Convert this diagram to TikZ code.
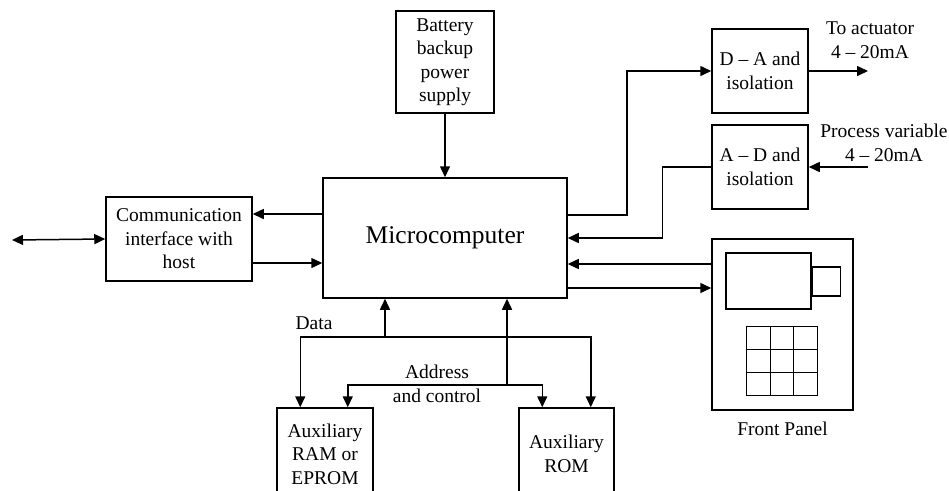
\documentclass[tikz,border=0pt]{standalone}
\usepackage{fontspec}
\setmainfont{Liberation Serif}
\usepackage{tikz}
\usetikzlibrary{positioning, arrows.meta, calc}

\tikzset{
    blk/.style={draw, line width=1.5pt, align=center, inner sep=2pt,
                font=\fontsize{19.5}{23.5}\selectfont},
    lbl/.style={align=center, inner sep=1pt, font=\fontsize{19.5}{23.5}\selectfont},
    arr/.style={line width=1.5pt, -{Triangle[length=11pt, width=10pt]}},
    line width=1.5pt
}

\begin{document}
\begin{tikzpicture}[x=1pt, y=-1pt]
    \clip (0,0) rectangle (949,490);

    \node[blk, minimum width=244pt, minimum height=120pt,
          font=\fontsize{25.5}{30}\selectfont] (micro) at (445,238) {Microcomputer};
    \node[blk, minimum width=98pt, minimum height=102pt] (batt) at (445,62)
        {Battery\\backup\\power\\supply};
    \node[blk, minimum width=146pt, minimum height=84pt] (comm) at (179,239)
        {Communication\\interface with\\host};
    \node[blk, minimum width=96pt, minimum height=84pt] (da) at (760,71)
        {D – A and\\isolation};
    \node[blk, minimum width=96pt, minimum height=84pt] (ad) at (760,167)
        {A – D and\\isolation};
    \node[blk, minimum width=141pt, minimum height=171pt] (panel) at (782.5,324.5) {};
    \node[blk, minimum width=96pt, minimum height=92pt] (ram) at (325,454)
        {Auxiliary\\RAM or\\EPROM};
    \node[blk, minimum width=95pt, minimum height=92pt] (rom) at (566.5,454)
        {Auxiliary\\ROM};

    % front panel
    \node[blk, minimum width=85pt, minimum height=56pt] (disp) at (768.5,281) {};
    \node[blk, minimum width=28pt, minimum height=29pt, anchor=west] (knob)
        at (disp.east |- 0,281.5) {};
    \draw (746,326) rectangle (817,395);
    \foreach \i in {1,2} {
        \draw ({746+\i*23.7},326) -- ({746+\i*23.7},395);
        \draw (746,{326+\i*23}) -- (817,{326+\i*23});
    }
    \node[lbl, below=10pt of panel] (fplbl) {Front Panel};

    % left side
    \coordinate (host) at (12,240);
    \draw[arr, {Triangle[length=11pt, width=10pt]}-{Triangle[length=11pt, width=10pt]}]
        (host) -- (comm.west);
    \draw[arr] ([yshift=24pt]micro.west) -- ([yshift=24pt]micro.west -| comm.east);
    \draw[arr] ([yshift=-24pt]comm.east) -- ([yshift=-24pt]comm.east -| micro.west);
    \draw[arr] (batt) -- (micro);

    % right side
    \draw[arr] ([yshift=23pt]micro.east) -- ++(59,0) |- (da.west);
    \draw[arr] (ad.west) -- ++(-49,0) |- (micro.east);
    \draw[arr] ([yshift=-26pt]micro.east -| panel.west) -- ([yshift=-26pt]micro.east);
    \draw[arr] ([yshift=-50pt]micro.east) -- ([yshift=-50pt]micro.east -| panel.west);
    \coordinate (act) at (868,71);
    \coordinate (pv) at (868,167);
    \draw[arr] (da) -- (act);
    \draw[arr] (pv) -- (ad);
    \node[lbl] (actlbl) at (870,40) {To actuator\\4 – 20mA};
    \node[lbl] (pvlbl) at (884,143) {Process variable\\4 – 20mA};

    % buses
    \coordinate (dbus) at (385,337);
    \coordinate (abus) at (507,385);
    \draw[arr] (dbus) -- (dbus |- micro.south);
    \draw[arr] (dbus) -| ([xshift=24pt]ram.north west);
    \draw[arr] (dbus) -| ([xshift=-24pt]rom.north east);
    \draw[arr] (abus) -- (abus |- micro.south);
    \draw[arr] (abus) -| ([xshift=-26pt]ram.north east);
    \draw[arr] (abus) -| ([xshift=24pt]rom.north west);
    \node[lbl] (datalbl) at (314,323) {Data};
    \node[lbl] (addrlbl) at (437,384) {Address\\and control};
\end{tikzpicture}
\end{document}
